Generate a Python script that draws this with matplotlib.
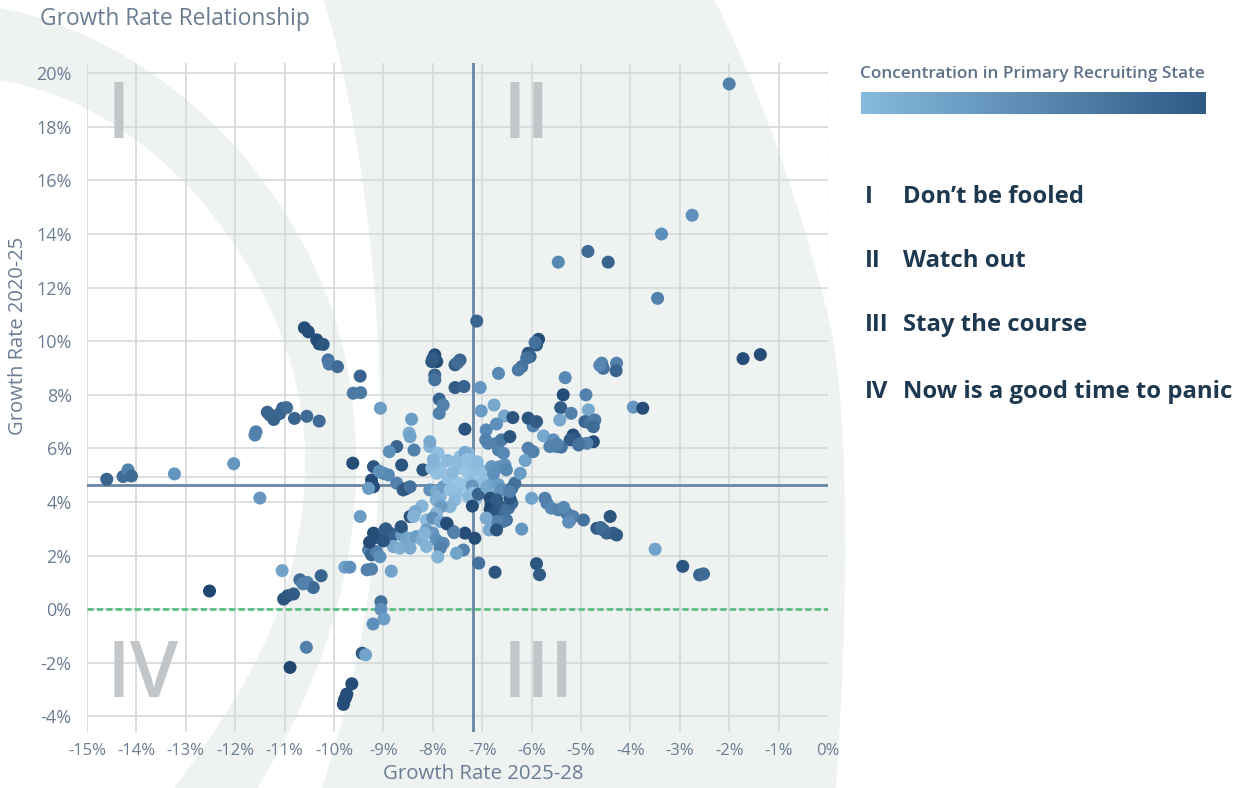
import matplotlib
matplotlib.use("Agg")
import matplotlib.pyplot as plt
from matplotlib.path import Path
from matplotlib.patches import PathPatch
from matplotlib.colors import LinearSegmentedColormap
import numpy as np

plt.rcParams['font.family'] = ['Open Sans', 'DejaVu Sans']

# ---------------- data ----------------
# (growth 2025-28 %, growth 2020-25 %, concentration 0..1)
points = [
    (-2.0,19.6,0.6),(-2.75,14.7,0.5),(-3.37,14.0,0.5),(-3.45,11.6,0.6),(-5.46,12.95,0.55),
    (-4.86,13.35,0.75),(-4.45,12.95,0.8),(-1.72,9.35,0.95),(-1.37,9.5,0.95),(-3.94,7.54,0.45),
    (-3.75,7.5,0.95),(-3.5,2.24,0.35),(-2.94,1.6,0.9),(-2.6,1.28,0.8),(-2.52,1.32,0.75),
    (-7.11,10.75,0.8),(-5.86,10.07,0.95),(-5.9,9.86,0.85),(-5.93,9.95,0.7),(-6.07,9.55,0.9),
    (-6.03,9.43,0.8),(-6.1,9.37,0.7),(-6.2,9.05,0.7),(-6.27,8.93,0.65),(-6.67,8.8,0.55),
    (-5.32,8.64,0.55),(-4.58,9.18,0.6),(-4.55,8.99,0.7),(-4.62,9.1,0.55),(-4.28,9.18,0.6),
    (-4.29,8.9,0.8),(-5.36,8.0,0.95),(-4.9,8.0,0.6),(-5.41,7.52,0.85),(-4.85,7.44,0.3),
    (-5.2,7.31,0.6),(-5.43,7.06,0.3),(-4.92,7.0,0.8),(-4.82,6.94,0.7),(-4.72,7.06,0.65),
    (-4.75,6.81,0.75),(-4.75,6.25,0.95),(-5.97,6.84,0.6),(-6.07,7.13,0.9),(-5.9,7.0,0.85),
    (-5.76,6.47,0.3),(-5.56,6.32,0.5),(-5.5,6.07,0.6),(-5.63,6.07,0.6),(-5.16,6.5,0.95),
    (-5.12,6.38,0.9),(-5.22,6.32,0.85),(-5.02,6.19,0.75),(-4.88,6.19,0.6),(-5.05,6.13,0.7),
    (-5.4,6.05,0.7),(-5.48,6.15,0.6),
    (-7.96,9.49,0.95),(-7.92,9.24,0.95),(-8.02,9.24,0.9),(-8.0,9.35,0.85),(-7.55,9.12,0.85),
    (-7.45,9.3,0.8),(-7.5,9.2,0.75),(-7.96,8.74,0.8),(-7.96,8.56,0.7),(-7.55,8.27,0.85),
    (-7.37,8.31,0.8),(-7.04,8.27,0.45),(-7.87,7.84,0.8),(-7.79,7.62,0.6),(-7.87,7.31,0.6),
    (-7.02,7.4,0.4),(-6.76,7.62,0.3),(-6.55,7.21,0.3),(-6.38,7.15,0.9),(-6.92,6.69,0.55),
    (-6.71,6.91,0.5),(-7.35,6.72,0.9),(-8.43,7.09,0.4),(-8.48,6.57,0.25),(-8.46,6.44,0.35),
    (-9.06,7.5,0.4),(-8.73,6.07,0.8),(-8.38,5.94,0.6),(-8.06,6.07,0.2),(-8.06,6.25,0.3),
    (-8.63,5.38,0.9),(-8.88,5.88,0.5),(-8.2,5.2,0.9),
    (-9.47,8.7,0.8),(-9.61,8.06,0.65),(-9.46,8.08,0.65),(-9.62,5.45,0.95),(-9.2,5.32,0.9),
    (-9.24,4.82,0.95),(-9.2,4.57,0.95),(-9.3,4.51,0.4),(-9.0,5.07,0.6),(-8.9,5.01,0.55),
    (-9.08,5.15,0.5),(-8.73,4.7,0.6),(-8.6,4.45,0.85),(-8.53,4.51,0.9),(-8.46,4.57,0.7),
    (-9.47,3.46,0.4),
    (-8.02,5.26,0.15),(-7.92,5.07,0.1),(-7.85,5.26,0.1),(-7.96,5.45,0.15),(-7.89,5.82,0.1),
    (-7.99,5.57,0.2),(-8.06,4.45,0.5),(-7.93,4.39,0.3),(-7.85,4.2,0.2),(-7.79,4.57,0.4),
    (-7.69,4.89,0.1),(-7.58,4.76,0.1),(-7.48,4.7,0.05),(-7.38,4.64,0.05),(-7.65,4.45,0.1),
    (-7.52,4.33,0.1),(-7.55,4.08,0.15),(-7.65,3.83,0.2),(-7.45,5.69,0.1),(-7.38,5.45,0.05),
    (-7.28,5.82,0.15),(-7.42,5.26,0.05),(-7.28,5.07,0.05),(-7.21,4.82,0.1),(-7.18,5.32,0.1),
    (-7.04,5.2,0.1),(-7.01,5.01,0.1),(-7.08,4.76,0.05),(-6.98,4.7,0.1),(-7.2,4.6,0.45),
    (-7.18,4.33,0.1),(-7.28,4.2,0.15),(-7.14,4.08,0.1),(-7.2,3.85,0.95),(-7.08,4.29,0.8),
    (-6.91,4.57,0.3),(-6.77,4.76,0.35),(-6.67,4.64,0.4),(-6.71,4.26,0.4),(-6.61,4.45,0.5),
    (-7.35,5.85,0.3),(-7.5,5.5,0.15),(-7.6,5.1,0.15),(-7.7,5.55,0.15),(-7.3,5.6,0.1),
    (-7.1,5.5,0.15),
    (-6.84,4.14,0.95),(-6.82,3.93,0.95),(-6.84,3.73,1.0),(-6.77,3.64,0.95),(-6.71,3.58,0.9),
    (-6.64,3.83,0.9),(-6.71,4.08,0.85),(-6.54,3.71,0.8),(-6.57,3.46,0.75),(-6.47,3.77,0.7),
    (-6.4,3.96,0.75),(-6.44,4.14,0.9),(-6.51,3.33,0.7),(-6.58,3.27,0.65),(-6.71,3.27,0.6),
    (-6.92,3.4,0.3),(-6.86,2.96,0.3),(-6.71,2.96,0.9),(-6.2,2.99,0.45),(-7.15,2.65,0.95),
    (-7.35,2.84,0.95),(-7.38,2.21,0.6),(-7.52,2.09,0.35),(-7.07,1.72,0.7),(-6.74,1.38,0.9),
    (-5.9,1.7,0.9),(-5.84,1.29,0.85),
    (-6.81,5.32,0.45),(-6.77,5.07,0.5),(-6.64,5.32,0.5),(-6.54,5.38,0.5),(-6.51,5.2,0.55),
    (-6.67,5.94,0.6),(-6.57,5.82,0.55),(-6.71,6.19,0.6),(-6.61,6.32,0.65),(-6.44,6.44,0.9),
    (-6.93,6.32,0.6),(-6.88,6.19,0.6),(-6.34,4.7,0.7),(-6.4,4.51,0.75),(-6.44,4.39,0.6),
    (-6.23,5.07,0.4),(-6.13,5.55,0.35),(-6.07,6.01,0.6),(-5.97,5.88,0.6),(-6.0,4.14,0.35),
    (-5.73,4.14,0.6),(-5.69,3.96,0.6),(-5.6,3.77,0.55),(-5.46,3.71,0.6),(-5.29,3.58,0.65),
    (-5.16,3.46,0.6),(-5.22,3.33,0.6),(-4.95,3.33,0.7),(-5.35,3.8,0.55),(-5.25,3.25,0.5),
    (-4.68,3.02,0.85),(-4.55,2.96,0.85),(-4.48,2.84,0.8),(-4.35,2.84,0.8),(-4.28,2.77,0.85),
    (-4.41,3.46,0.9),(-4.6,3.05,0.75),
    (-8.46,3.46,0.9),(-8.64,2.99,0.9),(-8.22,3.85,0.2),(-8.36,3.64,0.3),(-8.39,3.46,0.2),
    (-8.13,3.33,0.15),(-7.93,4.08,0.25),(-7.83,3.83,0.4),(-7.93,3.58,0.2),(-8.0,3.4,0.5),
    (-7.85,3.27,0.3),(-7.72,3.21,0.95),(-8.13,2.96,0.4),(-8.0,2.84,0.45),(-7.93,2.59,0.5),
    (-7.79,2.46,0.55),(-7.85,2.28,0.6),(-7.9,1.95,0.2),(-7.58,2.9,0.6),(-9.2,2.84,0.95),
    (-9.07,2.65,0.95),(-8.97,2.96,0.8),(-8.87,2.84,0.9),(-8.8,2.77,0.8),(-8.63,2.77,0.4),
    (-8.53,2.65,0.35),(-8.43,2.65,0.3),(-8.33,2.71,0.4),(-8.8,2.34,0.3),(-8.67,2.28,0.25),
    (-8.46,2.28,0.3),(-8.22,2.59,0.25),(-8.13,2.34,0.2),(-9.3,2.21,0.6),(-9.24,2.03,0.8),
    (-9.14,2.15,0.6),(-9.07,1.96,0.5),(-9.28,2.5,0.95),(-9.0,2.55,0.9),(-8.95,3.0,0.85),
    (-8.64,3.08,0.9),(-8.17,2.84,0.2),(-7.71,3.18,0.95),(-7.57,2.86,0.6),
    (-9.33,1.47,0.6),(-9.24,1.5,0.6),(-8.84,1.42,0.35),(-9.78,1.57,0.35),(-9.68,1.57,0.5),
    (-9.05,0.28,0.7),(-9.05,0.0,0.5),(-8.99,-0.36,0.4),(-9.21,-0.55,0.5),(-9.43,-1.64,0.85),
    (-9.36,-1.7,0.35),(-9.64,-2.78,0.95),(-9.74,-3.16,0.95),(-9.79,-3.38,0.9),(-9.81,-3.55,0.95),
    (-9.76,-3.28,0.95),(-10.56,-1.42,0.6),(-10.89,-2.17,1.0),(-12.52,0.68,1.0),(-11.05,1.44,0.35),
    (-11.02,0.38,0.9),(-10.94,0.5,0.9),(-10.82,0.57,0.85),(-10.69,1.1,0.75),(-10.58,0.96,0.35),
    (-10.54,1.0,0.6),(-10.42,0.81,0.75),(-10.26,1.25,0.8),(-10.63,0.95,0.6),
    (-14.6,4.85,0.8),(-14.27,4.95,0.75),(-14.17,5.2,0.6),(-14.1,4.97,0.75),(-13.23,5.05,0.45),
    (-12.03,5.43,0.45),(-11.5,4.15,0.45),(-11.6,6.5,0.6),(-11.58,6.62,0.6),(-11.35,7.35,0.8),
    (-11.3,7.25,0.8),(-11.22,7.08,0.8),(-11.1,7.3,0.8),(-11.04,7.5,0.8),(-10.96,7.52,0.75),
    (-10.8,7.12,0.8),(-10.55,7.2,0.75),(-10.3,7.02,0.75),(-10.6,10.5,0.95),(-10.52,10.35,0.95),
    (-10.35,10.05,0.95),(-10.3,9.9,0.95),(-10.22,9.88,0.9),(-10.12,9.3,0.7),(-10.1,9.15,0.65),
    (-9.93,9.05,0.75),
]
growth_2025_28 = [p[0] for p in points]
growth_2020_25 = [p[1] for p in points]
concentration = [p[2] for p in points]

mean_x = -7.19
mean_y = 4.64
x_ticks = list(range(-15, 1))
x_tick_labels = [f"{t}%" for t in x_ticks]
y_ticks = list(range(-4, 21, 2))
y_tick_labels = [f"{t}%" for t in y_ticks]
quadrant_labels = [("I", "Don\u2019t be fooled"), ("II", "Watch out"),
                   ("III", "Stay the course"), ("IV", "Now is a good time to panic")]

# ---------------- figure ----------------
W, H = 1255, 788
fig = plt.figure(figsize=(W / 100, H / 100), dpi=100)
fig.patch.set_facecolor("white")

# decorative background arcs (pixel coordinates)
bg = fig.add_axes([0, 0, 1, 1], zorder=0)
bg.set_xlim(0, W); bg.set_ylim(H, 0); bg.axis("off")
BG = "#eef3f2"
M, C, L, Z = Path.MOVETO, Path.CURVE4, Path.LINETO, Path.CLOSEPOLY
bandA = Path([(-20, 5), (150, 25), (352, 200), (356, 450), (360, 600), (300, 720), (250, 800),
              (165, 800), (240, 700), (308, 600), (305, 450), (300, 280), (150, 90), (-20, 78),
              (-20, 5)],
             [M, C, C, C, C, C, C, L, C, C, C, C, C, C, Z])
bandB = Path([(322, -5), (362, 120), (382, 300), (380, 450), (378, 600), (345, 720), (318, 800),
              (835, 800), (850, 600), (848, 420), (832, 333), (806, 220), (765, 100), (712, -5),
              (322, -5)],
             [M, C, C, C, C, C, C, L, C, C, C, C, C, C, Z])
for p in (bandA, bandB):
    bg.add_patch(PathPatch(p, facecolor=BG, edgecolor="none"))

# main axes
x0, x1, y0, y1 = 87, 828, 63, 732
ax = fig.add_axes([x0 / W, 1 - y1 / H, (x1 - x0) / W, (y1 - y0) / H], zorder=1)
ax.patch.set_alpha(0)
ax.set_xlim(-15, 0)
ax.set_ylim(-4.58, 20.38)
for s in ax.spines.values():
    s.set_visible(False)

grid_c = "#d4d9dd"
for t in x_ticks[:-1]:
    ax.axvline(t, color=grid_c, lw=1.2, zorder=1)
for t in y_ticks:
    ax.axhline(t, color=grid_c, lw=1.2, zorder=1)
ax.axhline(4.95, color=grid_c, lw=1.2, zorder=1)
ax.axvline(0, color="#c9cdd1", lw=1, ls=(0, (2, 2)), zorder=1)

ax.axhline(0, color="#5cbf83", lw=2, ls=(0, (2.2, 1.2)), zorder=2)
ax.axvline(mean_x, color="#6a86a2", lw=2, zorder=2)
ax.axhline(mean_y, color="#6a86a2", lw=2, zorder=2)

# quadrant numerals
num_c = "#c3c6c8"
for txt, xx, yy in [("I", -14.6, 17.6), ("II", -6.58, 17.6), ("IV", -14.6, -3.27), ("III", -6.58, -3.27)]:
    ax.text(xx, yy, txt, fontsize=56, color=num_c, fontweight="semibold", ha="left",
            va="baseline", zorder=2)

cmap = LinearSegmentedColormap.from_list("conc", ["#9ecbe8", "#5e90bb", "#204670"])
ax.scatter(growth_2025_28, growth_2020_25, c=concentration, cmap=cmap, vmin=0, vmax=1,
           s=88, linewidths=0, zorder=3)

tick_c = "#6b7c93"
ax.set_xticks(x_ticks)
ax.set_xticklabels(x_tick_labels)
ax.set_yticks(y_ticks)
ax.set_yticklabels(y_tick_labels)
ax.tick_params(axis="x", length=0, pad=8, labelsize=12, labelcolor=tick_c)
ax.tick_params(axis="y", length=0, pad=11, labelsize=13, labelcolor=tick_c)

fig.text(483 / W, 1 - 774 / H, "Growth Rate 2025-28", ha="center", va="center",
         fontsize=14.7, color=tick_c)
fig.text(18 / W, 1 - 336 / H, "Growth Rate 2020-25", ha="center", va="center",
         rotation=90, fontsize=14.5, color=tick_c)
fig.text(40 / W, 1 - 19 / H, "Growth Rate Relationship", ha="left", va="center",
         fontsize=16.4, color=tick_c)

# colour legend
fig.text(860 / W, 1 - 74 / H, "Concentration in Primary Recruiting State", ha="left",
         va="center", fontsize=12.3, fontweight="semibold", color="#5f7189")
cax = fig.add_axes([861 / W, 1 - 114 / H, 345 / W, 22 / H])
bar_cmap = LinearSegmentedColormap.from_list("bar", ["#87badf", "#2e5a85"])
cax.imshow(np.linspace(0, 1, 256)[None, :], aspect="auto", cmap=bar_cmap)
cax.axis("off")

# quadrant description list
list_c = "#1e3850"
for (num, desc), yy in zip(quadrant_labels, [197, 261, 325, 392]):
    fig.text(865 / W, 1 - yy / H, num, ha="left", va="center", fontsize=17.2,
             fontweight="bold", color=list_c)
    fig.text(903 / W, 1 - yy / H, desc, ha="left", va="center", fontsize=17.2,
             fontweight="bold", color=list_c)

fig.savefig("out.png", dpi=100)
